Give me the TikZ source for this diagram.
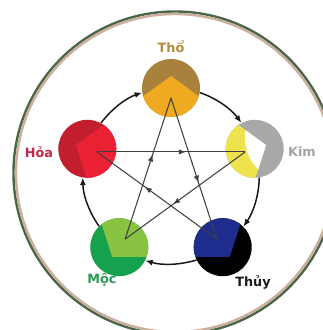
\documentclass[tikz,border=0pt]{standalone}
\usepackage{fontspec}
\setsansfont{DejaVu Sans}
\usetikzlibrary{arrows.meta,decorations.markings}
\definecolor{thoD}{HTML}{A8823C}
\definecolor{thoL}{HTML}{F0AA22}
\definecolor{hoaD}{HTML}{C21E2E}
\definecolor{hoaL}{HTML}{EA2233}
\definecolor{kimG}{HTML}{A8A8A8}
\definecolor{kimY}{HTML}{EEE34C}
\definecolor{mocD}{HTML}{16A24C}
\definecolor{mocL}{HTML}{88C442}
\definecolor{thuyB}{HTML}{1E2C8E}
\definecolor{ringG}{HTML}{4A6648}
\definecolor{ringP}{HTML}{CCAE9E}
\definecolor{lblTho}{HTML}{B58C40}
\definecolor{lblHoa}{HTML}{C22A4A}
\definecolor{lblKim}{HTML}{A2A2AA}
\definecolor{lblMoc}{HTML}{2A9A55}
\definecolor{lblThuy}{HTML}{1A1A1A}
\newcommand{\elemdisk}[4]{%
  \node[elem, fill=#3] (#1) at (#2:88) {};
  \begin{scope}
    \clip (#2:88) circle (29);
    \begin{scope}[rotate=#2-90]
      \fill[#4] (0,100) -- (-57.06,58.54) -- (-35.27,-8.54) -- (35.27,-8.54) -- (57.06,58.54) -- cycle;
    \end{scope}
  \end{scope}}
\begin{document}
\begin{tikzpicture}[x=1pt,y=1pt,
  elem/.style={circle, minimum size=58pt, inner sep=0pt},
  cyc/.style={line width=1.5pt, draw=black!90, -{Latex[length=7.5pt,width=6pt]}, looseness=0.87},
  ctrl/.style={line width=1.05pt, draw=black!75, postaction={decorate},
    decoration={markings, mark=at position 0.6 with {\arrow{Latex[length=7pt,width=5.5pt]}}}},
  lbl/.style={font=\sffamily\bfseries\fontsize{12.8}{14}\selectfont, inner sep=0pt}
]
\useasboundingbox (0,0) rectangle (322,330);
\fill[white] (0,0) rectangle (322,330);
% outer ring
\draw[ringG, line width=2.4pt] (175,157) circle (161.5);
\draw[ringP, line width=2.4pt] (175,157) circle (159);
\begin{scope}[shift={(171,154)}]
  \elemdisk{tho}{90}{thoD}{thoL}
  \elemdisk{hoa}{162}{hoaD}{hoaL}
  \elemdisk{kim}{18}{kimG}{kimY}
  \elemdisk{moc}{234}{mocD}{mocL}
  \elemdisk{thuy}{306}{black}{thuyB}
  % white inner part of Kim
  \begin{scope}
    \clip (18:88) circle (29);
    \begin{scope}[rotate=-72]
      \clip (0,100) -- (-57.06,58.54) -- (-35.27,-8.54) -- (35.27,-8.54) -- (57.06,58.54) -- cycle;
      \fill[white] (0,125) circle (45);
    \end{scope}
  \end{scope}
  % star vertices
  \coordinate (sTho) at (90:78);
  \coordinate (sHoa) at (162:78);
  \coordinate (sKim) at (18:78);
  \coordinate (sMoc) at (234:78);
  \coordinate (sThuy) at (306:78);
  % controlling cycle (star)
  \draw[ctrl] (sTho) -- (sThuy);
  \draw[ctrl] (sThuy) -- (sHoa);
  \draw[ctrl] (sHoa) -- (sKim);
  \draw[ctrl] (sKim) -- (sMoc);
  \draw[ctrl] (sMoc) -- (sTho);
  % generating cycle (outer arcs)
  \draw[cyc] (tho.-9.5) to[out=-19, in=127] (kim.117.5);
  \draw[cyc] (kim.-81.5) to[out=-91, in=55] (thuy.45.5);
  \draw[cyc] (thuy.206.5) to[out=197, in=343] (moc.333.5);
  \draw[cyc] (moc.134.5) to[out=125, in=271] (hoa.261.5);
  \draw[cyc] (hoa.62.5) to[out=53, in=199] (tho.189.5);
\end{scope}
% labels
\node[lbl, text=lblTho] (tTho) at (171,283) {Thổ};
\node[lbl, text=lblHoa] (tHoa) at (39,178) {Hỏa};
\node[lbl, text=lblKim] (tKim) at (302,178) {Kim};
\node[lbl, text=lblMoc] (tMoc) at (102,50) {Mộc};
\node[lbl, text=lblThuy] (tThuy) at (253,48) {Thủy};
\end{tikzpicture}
\end{document}
